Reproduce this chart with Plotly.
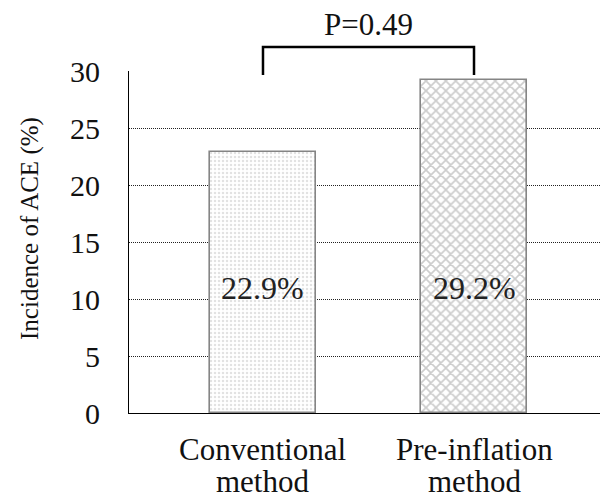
import plotly.graph_objects as go

categories = ["Conventional<br>method", "Pre-inflation<br>method"]
values = [22.9, 29.2]
value_labels = ["22.9%", "29.2%"]
y_ticks = [0, 5, 10, 15, 20, 25, 30]
p_text = "P=0.49"

FONT = "Liberation Serif"

fig = go.Figure()
fig.add_trace(go.Bar(
    x=[0, 1], y=values, width=0.502,
    marker=dict(
        color="white",
        line=dict(color="#858585", width=1.6),
        pattern=dict(shape=[".", "x"], fgcolor=["#c4c4c4", "#9a9a9a"],
                     bgcolor="white", size=[4, 7], solidity=[0.3, 0.42],
                     fillmode="overlay"),
    ),
    showlegend=False,
))

for i, (v, t) in enumerate(zip(values, value_labels)):
    fig.add_annotation(x=i, y=11, text=t, showarrow=False, xref="x", yref="y",
                       font=dict(family=FONT, size=32, color="#222"),
                       yanchor="middle")

# category labels, one annotation per line for tighter line spacing
line_y = [-0.108, -0.200]
for i, cat in enumerate(categories):
    for j, part in enumerate(cat.split("<br>")):
        fig.add_annotation(x=i, xref="x", y=line_y[j], yref="paper",
                           text=part, showarrow=False, yanchor="middle",
                           borderpad=0,
                           font=dict(family=FONT, size=31, color="#111"))

# significance bracket
fig.add_shape(type="path", xref="x", yref="paper",
              path="M 0,0.988 L 0,1.070 L 1,1.070 L 1,0.988",
              line=dict(color="black", width=2.5))
fig.add_annotation(x=0.5, y=1.137, xref="x", yref="paper", text=p_text,
                   showarrow=False, yanchor="middle",
                   font=dict(family=FONT, size=31, color="#111"))

fig.add_annotation(x=-0.2067, xref="paper", y=0.541, yref="paper",
                   xanchor="center", yanchor="middle",
                   text="Incidence of ACE (%)", textangle=-90, showarrow=False,
                   font=dict(family=FONT, size=25, color="#111"))

fig.update_layout(
    width=600, height=494,
    margin=dict(l=121, r=0, t=63, b=89),
    paper_bgcolor="white", plot_bgcolor="white",
    bargap=0,
)
fig.update_xaxes(
    range=[-0.635, 1.635], tickvals=[0, 1], showticklabels=False,
    showgrid=False, showline=True, linecolor="black", linewidth=1.2,
    ticks="", zeroline=False, automargin=False,
)
fig.update_yaxes(
    range=[0, 30], tickvals=y_ticks, showgrid=True, gridcolor="#222",
    griddash="1px,1px", gridwidth=1, showline=True, linecolor="black",
    linewidth=1.2, zeroline=False, ticks="", ticklabelstandoff=22,
    automargin=False,
    tickfont=dict(family=FONT, size=30, color="#111"),
)

fig.write_html("out.html")
